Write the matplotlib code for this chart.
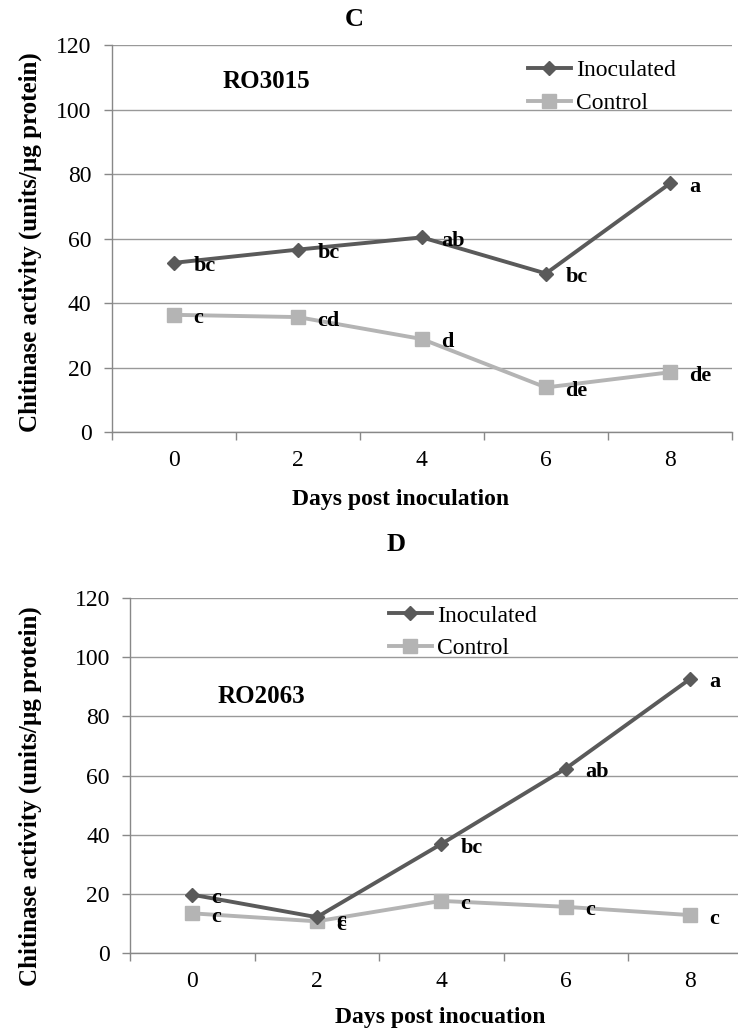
import matplotlib
matplotlib.use('Agg')
import matplotlib.pyplot as plt
from matplotlib.ticker import FixedLocator

plt.rcParams['font.family'] = ['Liberation Serif', 'DejaVu Serif']

# data
days = [0, 2, 4, 6, 8]

c_inoculated = [52.5, 56.6, 60.4, 49.2, 77.1]
c_control = [36.4, 35.7, 28.9, 13.9, 18.6]
c_inoc_letters = ['bc', 'bc', 'ab', 'bc', 'a']
c_ctrl_letters = ['c', 'cd', 'd', 'de', 'de']

d_inoculated = [19.8, 12.2, 36.9, 62.4, 92.7]
d_control = [13.5, 10.8, 17.7, 15.7, 12.9]
d_inoc_letters = ['c', 'c', 'bc', 'ab', 'a']
d_ctrl_letters = ['c', 'c', 'c', 'c', 'c']

y_ticks = [0, 20, 40, 60, 80, 100, 120]

W, H = 738, 1031
INOC = '#5a5a5a'
CTRL = '#b4b4b4'
GRID = '#999999'


def px_ax(left, top, right, bottom):
    return [left / W, 1 - bottom / H, (right - left) / W, (bottom - top) / H]


def draw_panel(ax, inoc, ctrl, inoc_lab, ctrl_lab, strain, strain_pos,
               xlabel, xlab_pos, ylab_x, ylab_y, leg_pos):
    ax.plot(days, inoc, color=INOC, lw=2.8, marker='D', ms=7,
            label='Inoculated', zorder=3)
    ax.plot(days, ctrl, color=CTRL, lw=2.8, marker='s', ms=10,
            label='Control', zorder=2)

    for x, y, t in zip(days, inoc, inoc_lab):
        ax.annotate(t, (x, y), xytext=(14, -2.5), textcoords='offset points',
                    ha='left', va='center', fontsize=16, fontweight='bold')
    for x, y, t in zip(days, ctrl, ctrl_lab):
        ax.annotate(t, (x, y), xytext=(14, -2.5), textcoords='offset points',
                    ha='left', va='center', fontsize=16, fontweight='bold')

    ax.set_xlim(-1, 9)
    ax.set_ylim(0, 120)
    ax.set_yticks(y_ticks)
    ax.set_xticks(days)
    ax.xaxis.set_minor_locator(FixedLocator([-1, 1, 3, 5, 7, 9]))
    ax.tick_params(axis='x', which='major', length=0, pad=13, labelsize=17)
    ax.tick_params(axis='x', which='minor', length=6, width=1, color='#888888')
    ax.tick_params(axis='y', length=6, width=1, color='#888888', pad=8.5,
                   labelsize=17)

    ax.grid(axis='y', color=GRID, lw=1.0)
    ax.set_axisbelow(True)
    for s in ['top', 'right']:
        ax.spines[s].set_visible(False)
    for s in ['left', 'bottom']:
        ax.spines[s].set_color('#888888')
        ax.spines[s].set_linewidth(1.0)

    ax.set_xlabel(xlabel, fontsize=17, fontweight='bold')
    ax.xaxis.label.set_va('baseline')
    ax.xaxis.set_label_coords(*xlab_pos)
    ax.set_ylabel('Chitinase activity (units/\u00b5g protein)', fontsize=18,
                  fontweight='bold')
    ax.yaxis.label.set_va('center')
    ax.yaxis.set_label_coords(ylab_x, ylab_y)

    ax.text(strain_pos[0], strain_pos[1], strain, transform=ax.transAxes,
            ha='left', va='center', fontsize=18, fontweight='bold')

    ax.legend(loc='center left', bbox_to_anchor=leg_pos,
              bbox_transform=ax.figure.transFigure, frameon=False,
              fontsize=17, borderpad=0, borderaxespad=0, handlelength=1.82,
              handletextpad=0.21, labelspacing=0.46, numpoints=1)


fig = plt.figure(figsize=(W / 100, H / 100), dpi=100)

ax1 = fig.add_axes(px_ax(111.7, 45, 732, 432.3))
draw_panel(ax1, c_inoculated, c_control, c_inoc_letters, c_ctrl_letters,
           'RO3015', (0.178, 0.907), 'Days post inoculation',
           (0.465, -0.188), -0.131, 0.491, (528 / W, 1 - 86.9 / H))

ax2 = fig.add_axes(px_ax(130, 598, 752.5, 953.3))
draw_panel(ax2, d_inoculated, d_control, d_inoc_letters, d_ctrl_letters,
           'RO2063', (0.14, 0.724), 'Days post inocuation',
           (0.498, -0.196), -0.16, 0.443, (389 / W, 1 - 632 / H))

fig.text(354.5 / W, 1 - 19 / H, 'C', ha='center', va='center', fontsize=19,
         fontweight='bold')
fig.text(396 / W, 1 - 544.5 / H, 'D', ha='center', va='center', fontsize=19,
         fontweight='bold')

fig.savefig('out.png', dpi=100)
